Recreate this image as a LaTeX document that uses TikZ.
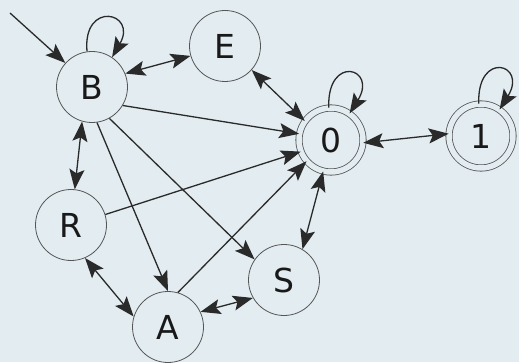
\documentclass[tikz,border=0pt]{standalone}
\usepackage{fontspec}
\setmainfont{DejaVu Sans}
\usetikzlibrary{arrows.meta}
\definecolor{bgblue}{HTML}{E2ECF1}
\definecolor{linegray}{HTML}{2A2A2A}
\definecolor{circlegray}{HTML}{555555}

\begin{document}
\begin{tikzpicture}[x=1pt, y=1pt, >={Stealth[length=20pt, width=15pt, inset=4pt]}]
        % Styles
        \tikzstyle{state} = [circle, draw=circlegray, line width=0.8pt, minimum size=71pt, inner sep=0pt, text=black!90, font=\fontsize{33}{33}\selectfont]
        \tikzstyle{accept} = [state, double=bgblue, double distance=5.5pt, minimum size=64pt]
        \tikzstyle{arrow} = [line width=1.3pt, draw=linegray, ->]
        \tikzstyle{darrow} = [line width=1.3pt, draw=linegray, <->]

        % Background
        \fill[bgblue] (0,0) rectangle (519,362);
        \useasboundingbox (0,0) rectangle (519,362);

        % States
        \node (B) [state] at (92,275) {B};
        \node (E) [state] at (225,316) {E};
        \node (q0) [accept] at (331,222) {0};
        \node (q1) [accept] at (481,226) {1};
        \node (R) [state] at (71,137) {R};
        \node (A) [state] at (168,35) {A};
        \node (S) [state] at (284,82) {S};
        \coordinate (start) at (10,349);

        % Start arrow and loops
        \draw [arrow] (start) -- (B.138);
        \draw [arrow] (B.98) to[out=95, in=60, min distance=52pt] (B.56);
        \draw [arrow] (q0.94) to[out=92, in=58, min distance=54pt] (q0.55);
        \draw [arrow] (q1.94) to[out=92, in=58, min distance=54pt] (q1.55);

        % Transitions
        \draw [darrow] (B.22) -- (E.-164);
        \draw [darrow] (E.-42) -- (q0.144);
        \draw [arrow] (B.-31) -- (q0.169);
        \draw [darrow] (B.-106) -- (R.84);
        \draw [arrow] (B.-82) -- (A.90);
        \draw [arrow] (B.-61) -- (S.145);
        \draw [arrow] (R.17) -- (q0.-159);
        \draw [darrow] (R.-67) -- (A.163);
        \draw [arrow] (A.74) -- (q0.-139);
        \draw [darrow] (A.25) -- (S.-150);
        \draw [darrow] (q0.-104) -- (S.59);
        \draw [darrow] (q0.-5) -- (q1.176);

    \end{tikzpicture}
\end{document}
